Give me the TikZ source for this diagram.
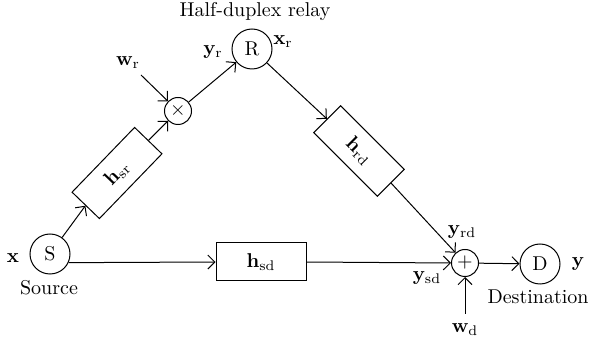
\documentclass[tikz,border=0pt]{standalone}
\usetikzlibrary{arrows.meta}
\begin{document}
\begin{tikzpicture}[x=0.5pt,y=-0.5pt,line width=0.5pt,
  every node/.style={font=\fontsize{10}{12}\selectfont},
  term/.style={draw,circle,minimum size=20pt,inner sep=0pt},
  op/.style={draw,circle,minimum size=13.5pt,inner sep=0pt},
  chan/.style={draw,rectangle,minimum width=45pt,minimum height=19pt,inner sep=0pt},
  arr/.style={-{Straight Barb[length=3.5pt,width=7pt]}},
  lbl/.style={inner sep=0pt}]
\useasboundingbox (0,0) rectangle (590,347);
% nodes
\node[term] (S) at (50,254) {S};
\node[term] (R) at (252,49) {R};
\node[term] (D) at (540,264) {D};
\node[op] (mult) at (178,111) {$\times$};
\node[op] (add) at (465,263) {$+$};
\node[chan] (hsd) at (261,262) {$\mathbf{h}_{\mathrm{sd}}$};
\node[chan,rotate=46] (hsr) at (117,173) {$\mathbf{h}_{\mathrm{sr}}$};
\node[chan,rotate=-45] (hrd) at (359,151) {$\mathbf{h}_{\mathrm{rd}}$};
% labels
\node[lbl] (title) at (255,12) {Half-duplex relay};
\node[lbl] (src) at (49,288) {Source};
\node[lbl] (dst) at (538,297) {Destination};
\node[lbl] (xl) at (13,258) {$\mathbf{x}$};
\node[lbl] (yl) at (578,264) {$\mathbf{y}$};
\node[lbl] (wr) at (128,63) {$\mathbf{w}_{\mathrm{r}}$};
\node[lbl] (yr) at (213,52) {$\mathbf{y}_{\mathrm{r}}$};
\node[lbl] (xr) at (283,42) {$\mathbf{x}_{\mathrm{r}}$};
\node[lbl] (yrd) at (462,232) {$\mathbf{y}_{\mathrm{rd}}$};
\node[lbl] (ysd) at (427,278) {$\mathbf{y}_{\mathrm{sd}}$};
\node[lbl] (wd) at (465,330) {$\mathbf{w}_{\mathrm{d}}$};
\coordinate (wrs) at (141,75);
\coordinate (wds) at (465,314);
% connectors
\draw[arr] (S) -- (hsr.west);
\draw[arr] (hsr.east) -- (mult);
\draw[arr] (wrs) -- (mult);
\draw[arr] (mult) -- (R);
\draw[arr] (R) -- (hrd.west);
\draw[arr] (hrd.east) -- (add);
\draw[arr] (S.-25) -- (hsd.west);
\draw[arr] (hsd.east) -- (add.west);
\draw[arr] (wds) -- (add);
\draw[arr] (add) -- (D);
\end{tikzpicture}
\end{document}
